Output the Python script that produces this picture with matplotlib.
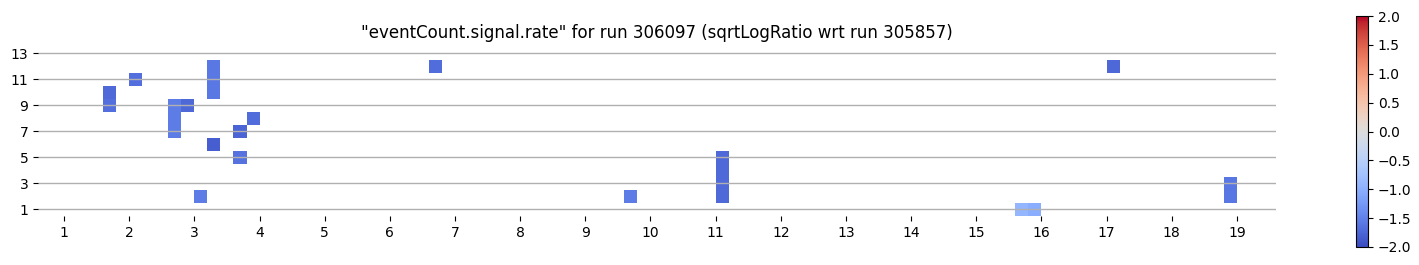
import matplotlib
matplotlib.use("Agg")
import matplotlib.pyplot as plt
import numpy as np

# cell data: x centre, y row, sqrtLogRatio value
cell_x = [1.7, 1.7, 2.1, 2.7, 2.7, 2.7, 2.9, 3.1, 3.3, 3.3, 3.3, 3.3,
          3.7, 3.7, 3.9, 6.7, 9.7, 11.1, 11.1, 11.1, 11.1,
          15.7, 15.9, 17.1, 18.9, 18.9]
cell_y = [9, 10, 11, 7, 8, 9, 9, 2, 10, 11, 12, 6,
          7, 5, 8, 12, 2, 2, 3, 4, 5,
          1, 1, 12, 2, 3]
cell_val = [-1.68, -1.72, -1.68, -1.55, -1.55, -1.55, -1.75, -1.55, -1.58, -1.58, -1.58, -1.84,
            -1.78, -1.65, -1.7, -1.7, -1.55, -1.72, -1.72, -1.72, -1.72,
            -0.92, -1.02, -1.75, -1.6, -1.6]

run = 306097
ref_run = 305857
x_ticks = list(range(1, 20))
y_ticks = [1, 3, 5, 7, 9, 11, 13]

# bin edges
x_edges = np.round(np.arange(0.6, 19.6001, 0.2), 2)
y_edges = np.arange(0.5, 13.51, 1.0)

grid = np.full((len(y_edges) - 1, len(x_edges) - 1), np.nan)
for x, y, v in zip(cell_x, cell_y, cell_val):
    i = int(np.searchsorted(y_edges, y) - 1)
    j = int(np.searchsorted(x_edges, x) - 1)
    grid[i, j] = v

fig = plt.figure(figsize=(14.19, 2.65), dpi=100)
ax = fig.add_axes([38/1419, 49/265, (1276-38)/1419, (216-46.5)/265])
cax = fig.add_axes([1356/1419, 18/265, 12/1419, 231/265])

mesh = ax.pcolormesh(x_edges, y_edges, np.ma.masked_invalid(grid),
                     cmap="coolwarm", vmin=-2, vmax=2)
ax.set_xlim(0.6, 19.6)
ax.set_ylim(0.5, 13.5)
ax.set_xticks(x_ticks)
ax.set_yticks(y_ticks)
ax.grid(axis="y", color="#b0b0b0", linewidth=1)
for s in ax.spines.values():
    s.set_visible(False)
ax.set_title('"eventCount.signal.rate" for run %d (sqrtLogRatio wrt run %d)' % (run, ref_run),
             fontsize=12)

cb = fig.colorbar(mesh, cax=cax)
cb.set_ticks(np.arange(-2, 2.01, 0.5))

fig.savefig("out.png", dpi=100)
